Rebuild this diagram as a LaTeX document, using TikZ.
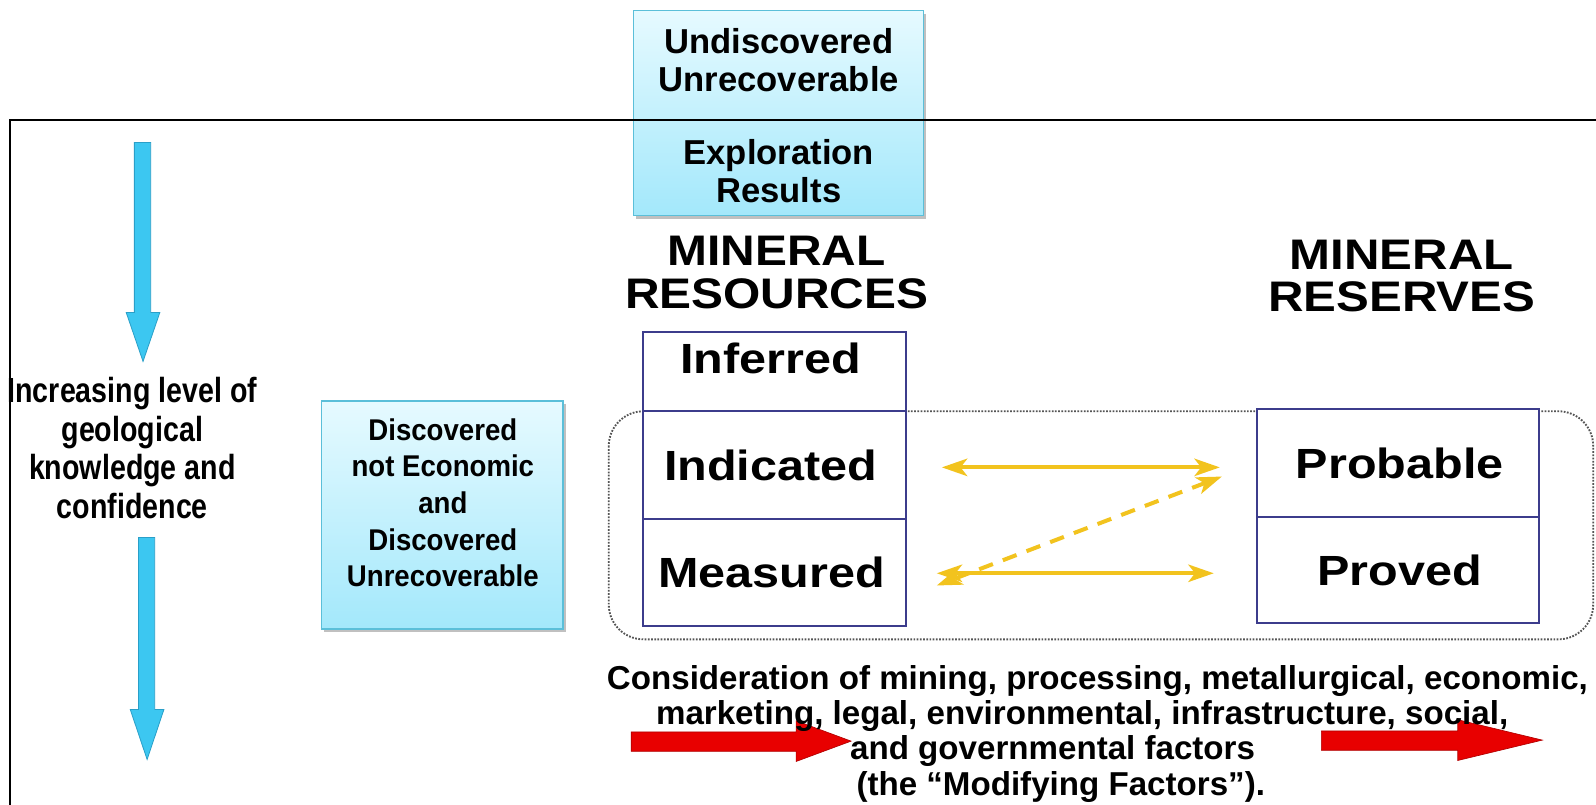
\documentclass[tikz,border=0pt]{standalone}
\usepackage{fontspec}
\setmainfont{Liberation Sans}
\newfontfamily\narrowf{Liberation Sans}[FakeStretch=0.82]
\newfontfamily\discf{Liberation Sans}[FakeStretch=0.92]
\newfontfamily\hdrA{Liberation Sans}[FakeStretch=1.12]
\newfontfamily\hdrB{Liberation Sans}[FakeStretch=1.15]
\newfontfamily\cellf{Liberation Sans}[FakeStretch=1.15]
\usetikzlibrary{arrows.meta,shadows}
\definecolor{boxtop}{HTML}{E6FAFF}
\definecolor{boxbot}{HTML}{A3E8FB}
\definecolor{boxedge}{HTML}{5BBFD9}
\definecolor{navy}{HTML}{3C3C8C}
\definecolor{gold}{HTML}{F2C31E}
\definecolor{arrowblue}{HTML}{3CC7F1}
\definecolor{arrowblueedge}{HTML}{2A9FC8}
\definecolor{redarrow}{HTML}{E80000}
\definecolor{dotgray}{HTML}{555555}
\begin{document}
\begin{tikzpicture}[x=0.75pt,y=-0.75pt,
  cyanbox/.style={draw=boxedge, line width=1pt, top color=boxtop, bottom color=boxbot,
    drop shadow={shadow xshift=2pt,shadow yshift=-2.5pt,opacity=0.35,fill=black!70}, inner sep=0pt},
  cell/.style={draw=navy, line width=1.5pt, fill=white, inner sep=0pt},
  tbtext/.style={align=center, inner sep=0pt, font={\fontsize{25.5pt}{28.5pt}\selectfont\bfseries}},
  celltext/.style={inner sep=0pt, font={\fontsize{31.1pt}{36pt}\selectfont\cellf\bfseries}},
  hdrtext/.style={align=center, inner sep=0pt},
  sidetext/.style={align=center, inner sep=0pt, font={\fontsize{25.7pt}{28.5pt}\selectfont\narrowf\bfseries}},
  disctext/.style={align=center, inner sep=0pt, font={\fontsize{22.1pt}{27pt}\selectfont\discf\bfseries}},
  bottext/.style={inner sep=0pt, font={\fontsize{24.4pt}{28pt}\selectfont\bfseries}},
  frame/.style={draw=black, line width=1.5pt},
  dotframe/.style={draw=dotgray, line width=1.4pt, dash pattern=on 1.3pt off 1.1pt, rounded corners=26pt},
  goldarrow/.style={draw=gold, line width=3pt, {Stealth[length=19pt,width=13pt,inset=5pt]}-{Stealth[length=19pt,width=13pt,inset=5pt]}},
  golddash/.style={goldarrow, dash pattern=on 11pt off 8pt},
  bluearrow/.style={fill=arrowblue, draw=arrowblueedge, line width=0.6pt},
  redblock/.style={fill=redarrow, draw=red!70!black, line width=0.5pt}
]
\useasboundingbox (0,0) rectangle (1596,804);
\clip (0,0) rectangle (1596,804);
\fill[white] (0,0) rectangle (1596,804);

\begin{scope}[scale=1.018, transform shape]
% dotted rounded frame around indicated/measured and probable/proved
\draw[dotframe] (598,404) rectangle (1565,628);

% top box
\node[cyanbox, minimum width=213.75pt, minimum height=151.5pt] (topbox) at (764.5,111) {};
\node[tbtext] (undisc) at (765,59) {Undiscovered\\Unrecoverable};
\node[tbtext] (explo) at (765,168) {Exploration\\Results};

% outer frame (runs off the picture to the right and bottom)
\draw[frame] (10,840) -- (10,118) -- (1640,118);

% headers
\node[hdrtext, font={\fontsize{31.5pt}{31.5pt}\selectfont\hdrA\bfseries}] (reshdr) at (763,268) {MINERAL\\RESOURCES};
\node[hdrtext, font={\fontsize{31.5pt}{31.5pt}\selectfont\hdrB\bfseries}] (rsvhdr) at (1377,271) {MINERAL\\RESERVES};

% resources column
\node[cell, minimum width=193.5pt, minimum height=58.5pt] (inf) at (761,365) {};
\node[cell, minimum width=193.5pt, minimum height=79.5pt] (ind) at (761,457) {};
\node[cell, minimum width=193.5pt, minimum height=78.75pt] (meas) at (761,562.5) {};
\node[celltext] (inft) at (757,352) {Inferred};
\node[celltext] (indt) at (757,457) {Indicated};
\node[celltext] (meast) at (758,562) {Measured};

% reserves column
\node[cell, minimum width=207.75pt, minimum height=79.5pt] (prob) at (1373.5,455) {};
\node[cell, minimum width=207.75pt, minimum height=78pt] (prov) at (1373.5,560) {};
\node[celltext] (probt) at (1375,455) {Probable};
\node[celltext] (provt) at (1375,560) {Proved};

% discovered box
\node[cyanbox, minimum width=177.75pt, minimum height=168pt] (disc) at (434.5,506) {};
\node[disctext] (disct) at (435,494) {Discovered\\not Economic\\and\\Discovered\\Unrecoverable};

% side text
\node[sidetext] (side) at (130,440) {Increasing level of\\geological\\knowledge and\\confidence};

% blue arrows
\draw[bluearrow] (132,140) -- (148,140) -- (148,307) -- (157,307) -- (140.5,355) -- (124,307) -- (132,307) -- cycle;
\draw[bluearrow] (136,528) -- (152,528) -- (152,697) -- (161,697) -- (144.5,746) -- (128,697) -- (136,697) -- cycle;

% gold arrows
\coordinate (t1) at (925,459);
\coordinate (t2) at (1198,459);
\coordinate (b1) at (920,563);
\coordinate (b2) at (1192,563);
\coordinate (d1) at (1200,468);
\coordinate (d2) at (920,575);
\draw[goldarrow] (t1) -- (t2);
\draw[goldarrow] (b1) -- (b2);
\draw[golddash] (d1) -- (d2);

% red arrows
\draw[redblock] (620,719) -- (782,719) -- (782,708) -- (836,728) -- (782,748) -- (782,738) -- (620,738) -- cycle;
\draw[redblock] (1298,718) -- (1432,718) -- (1432,707) -- (1515,727) -- (1432,747) -- (1432,737) -- (1298,737) -- cycle;

% bottom text
\node[bottext] (l1) at (1078,669) {Consideration of mining, processing, metallurgical, economic,};
\node[bottext] (l2) at (1063,703) {marketing, legal, environmental, infrastructure, social,};
\node[bottext] (l3) at (1034,738) {and governmental factors};
\node[bottext] (l4) at (1042,773) {(the “Modifying Factors”).};
\end{scope}
\end{tikzpicture}
\end{document}
